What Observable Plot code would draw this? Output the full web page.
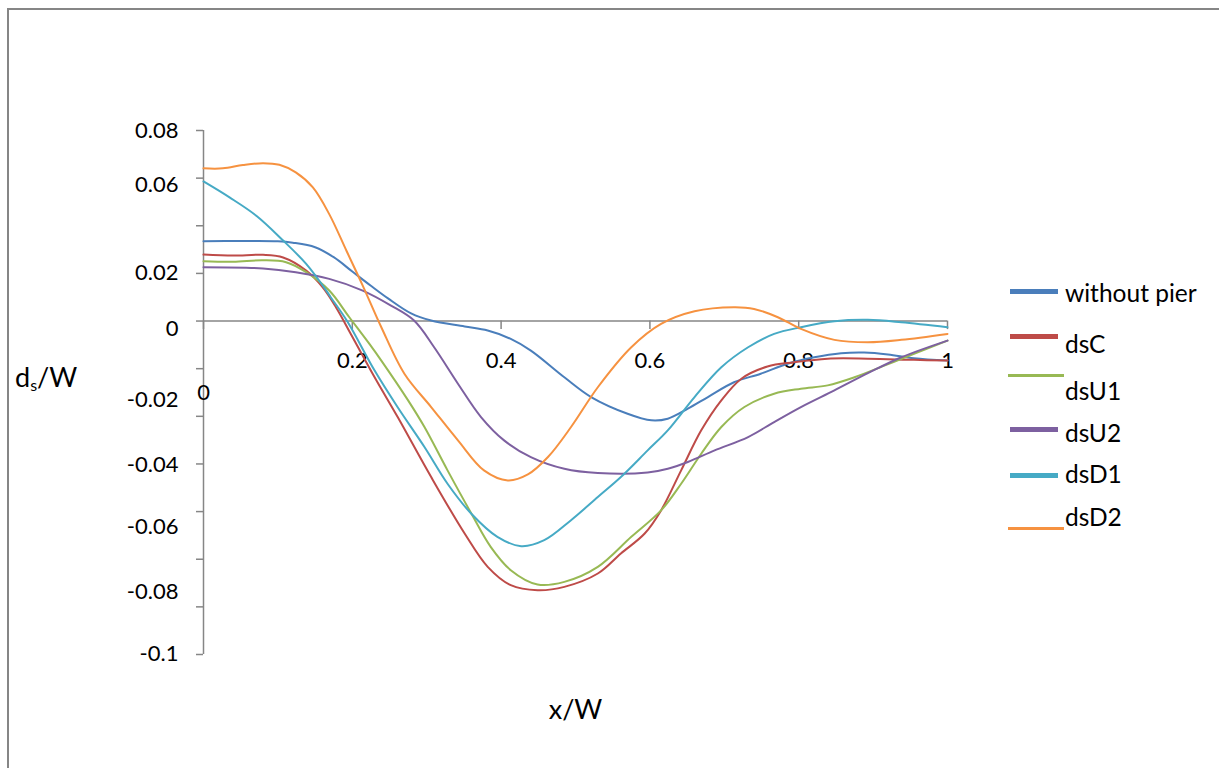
<!DOCTYPE html>
<html>
<head>
<meta charset="utf-8">
<script src="https://cdn.jsdelivr.net/npm/d3@7"></script>
<script src="https://cdn.jsdelivr.net/npm/@observablehq/plot@0.6"></script>
<style>
  html, body { margin: 0; padding: 0; background: #fff; overflow: hidden; }
  #wrap { position: relative; width: 1219px; height: 768px; font-family: "Lato", "Liberation Sans", sans-serif; }
  #wrap svg { display: block; }
  .frame { position: absolute; left: 7px; top: 8px; width: 1400px; height: 1000px; border: 2px solid #868686; box-sizing: border-box; pointer-events: none; }
  .leg-sw { position: absolute; box-shadow: 0 0 0 1px rgba(255,255,255,0.6); }
  .leg-tx { position: absolute; font-size: 24.5px; line-height: 30px; color: #000; white-space: nowrap; }
  .ytitle { position: absolute; left: 15px; top: 362px; font-size: 27px; line-height: 30px; color: #000; }
  .ytitle sub { font-size: 16px; vertical-align: -4px; line-height: 0; }
</style>
</head>
<body>
<div id="wrap"></div>
<script>
// ---- data ----
const seriesNames = ["without pier", "dsC", "dsU1", "dsU2", "dsD1", "dsD2"];
const seriesColors = ["#4A7EBB", "#BE4B48", "#98B954", "#7D60A0", "#46AAC5", "#F69240"];

const withoutPier = [[0,0.0335],[0.05,0.0336],[0.1,0.0335],[0.12,0.0329],[0.15,0.0310],[0.175,0.0268],[0.2,0.0208],[0.225,0.0148],[0.248,0.0095],[0.279,0.0032],[0.306,0.0002],[0.351,-0.0023],[0.382,-0.0040],[0.413,-0.0075],[0.440,-0.0124],[0.485,-0.0236],[0.521,-0.0319],[0.570,-0.0389],[0.602,-0.0417],[0.624,-0.0410],[0.651,-0.0368],[0.678,-0.0319],[0.713,-0.0257],[0.749,-0.0221],[0.785,-0.0179],[0.821,-0.0152],[0.857,-0.0135],[0.888,-0.0132],[0.920,-0.0140],[0.955,-0.0156],[1,-0.0166]];
const dsC = [[0,0.0279],[0.04,0.0275],[0.08,0.0278],[0.107,0.0267],[0.138,0.0212],[0.160,0.0142],[0.178,0.0058],[0.198,-0.0054],[0.230,-0.0236],[0.261,-0.0403],[0.306,-0.0655],[0.351,-0.0892],[0.382,-0.1032],[0.413,-0.1109],[0.449,-0.1130],[0.485,-0.1116],[0.530,-0.1060],[0.561,-0.0976],[0.593,-0.0892],[0.615,-0.0795],[0.642,-0.0627],[0.669,-0.0459],[0.696,-0.0333],[0.723,-0.0242],[0.758,-0.0191],[0.794,-0.0173],[0.839,-0.0158],[0.893,-0.0158],[0.955,-0.0163],[1,-0.0166]];
const dsU1 = [[0,0.0251],[0.04,0.0249],[0.08,0.0255],[0.111,0.0247],[0.138,0.0205],[0.169,0.0128],[0.196,0.0016],[0.223,-0.0096],[0.239,-0.0166],[0.275,-0.0333],[0.297,-0.0445],[0.328,-0.0627],[0.360,-0.0808],[0.386,-0.0948],[0.413,-0.1046],[0.449,-0.1106],[0.485,-0.1095],[0.530,-0.1032],[0.575,-0.0906],[0.615,-0.0795],[0.642,-0.0683],[0.669,-0.0557],[0.696,-0.0445],[0.727,-0.0361],[0.767,-0.0305],[0.803,-0.0284],[0.839,-0.0270],[0.875,-0.0236],[0.915,-0.0187],[0.955,-0.0138],[1,-0.0082]];
const dsU2 = [[0,0.0226],[0.08,0.0221],[0.124,0.0205],[0.169,0.0177],[0.214,0.0128],[0.252,0.0065],[0.283,0.0002],[0.310,-0.0110],[0.342,-0.0263],[0.373,-0.0403],[0.404,-0.0501],[0.440,-0.0571],[0.485,-0.0620],[0.530,-0.0638],[0.597,-0.0636],[0.624,-0.0620],[0.651,-0.0592],[0.687,-0.0543],[0.732,-0.0487],[0.767,-0.0424],[0.803,-0.0361],[0.848,-0.0291],[0.893,-0.0219],[0.938,-0.0152],[1,-0.0082]];
const dsD1 = [[0,0.0586],[0.035,0.0519],[0.071,0.0442],[0.107,0.0338],[0.138,0.0240],[0.165,0.0128],[0.171,0.0100],[0.193,0.0000],[0.230,-0.0208],[0.261,-0.0362],[0.297,-0.0529],[0.328,-0.0683],[0.360,-0.0809],[0.395,-0.0906],[0.427,-0.0945],[0.458,-0.0920],[0.494,-0.0836],[0.530,-0.0739],[0.561,-0.0655],[0.597,-0.0543],[0.624,-0.0459],[0.660,-0.0319],[0.696,-0.0194],[0.732,-0.0110],[0.767,-0.0054],[0.803,-0.0026],[0.848,-0.0001],[0.893,0.0005],[0.938,-0.0005],[1,-0.0026]];
const dsD2 = [[0,0.0641],[0.026,0.0641],[0.053,0.0655],[0.080,0.0663],[0.102,0.0656],[0.124,0.0624],[0.147,0.0561],[0.169,0.0449],[0.192,0.0296],[0.214,0.0149],[0.239,-0.0026],[0.270,-0.0221],[0.306,-0.0361],[0.342,-0.0501],[0.377,-0.0627],[0.409,-0.0669],[0.436,-0.0644],[0.463,-0.0571],[0.494,-0.0445],[0.530,-0.0278],[0.575,-0.0110],[0.615,-0.0012],[0.660,0.0041],[0.713,0.0058],[0.740,0.0051],[0.772,0.0016],[0.803,-0.0033],[0.848,-0.0079],[0.893,-0.0089],[0.938,-0.0079],[1,-0.0054]];

const seriesData = [withoutPier, dsC, dsU1, dsU2, dsD1, dsD2];

// axis ticks and labels
const xTickVals = [0, 0.2, 0.4, 0.6, 0.8, 1];
const xTickLabels = ["0", "0.2", "0.4", "0.6", "0.8", "1"];
const yTickVals = [0.08, 0.06, 0.04, 0.02, 0, -0.02, -0.04, -0.06, -0.08, -0.1, -0.12, -0.14];
const yTickLabels = ["0.08", "0.06", "0.02", "0", "-0.02", "-0.04", "-0.06", "-0.08", "-0.1"];
// where each y label sits on the value scale, as drawn in the reference
const yLabelAt = [0.08, 0.057, 0.0203, -0.0032, -0.0333, -0.0606, -0.0866, -0.1137, -0.1398];

// ---- layout (styles/positions, not data) ----
const axisColor = "#868686";
const legendLayout = [
  {sy: 291, ty: 293, thin: false},
  {sy: 336, ty: 344, thin: false},
  {sy: 375, ty: 391, thin: true},
  {sy: 429, ty: 433, thin: false},
  {sy: 475, ty: 474, thin: false},
  {sy: 528, ty: 517, thin: true}
];

const rows = seriesData.flatMap((s, k) => s.map(([x, y]) => ({series: seriesNames[k], x, y})));

const chart = Plot.plot({
  width: 1219,
  height: 768,
  marginTop: 130,
  marginBottom: 114,
  marginLeft: 203,
  marginRight: 272,
  x: {domain: [0, 1], axis: null},
  y: {domain: [-0.14, 0.08]},
  color: {domain: seriesNames, range: seriesColors},
  style: {fontFamily: "Lato, 'Liberation Sans', sans-serif", background: "transparent", color: "#000", overflow: "visible"},
  marks: [
    Plot.axisY(yTickVals, {anchor: "left", tickSize: 7, tickFormat: () => "", stroke: axisColor, strokeWidth: 1.5, label: null}),
    Plot.ruleX([0], {stroke: axisColor, strokeWidth: 1.5}),
    Plot.ruleY([0], {stroke: axisColor, strokeWidth: 1.5}),
    Plot.ruleX(xTickVals, {y1: 0, y2: -0.0036, stroke: axisColor, strokeWidth: 1.5}),
    Plot.text(yTickLabels, {x: 0, y: (d, i) => yLabelAt[i], text: d => d, textAnchor: "end", dx: -25, fontSize: 22, fill: "#000"}),
    Plot.text(xTickLabels.filter(d => d !== "0"), {x: d => +d, y: 0, text: d => d, dy: 40, fontSize: 22, fill: "#000"}),
    Plot.text(xTickLabels.filter(d => d === "0"), {x: d => +d, y: 0, text: d => d, dy: 72, fontSize: 22, fill: "#000"}),
    Plot.line(rows, {x: "x", y: "y", z: "series", stroke: "series", curve: "catmull-rom", strokeWidth: 2}),
    Plot.text(["x/W"], {frameAnchor: "bottom", dy: 64, fontSize: 27, fill: "#000"})
  ]
});

const wrap = document.getElementById("wrap");
wrap.appendChild(chart);

// y-axis title with subscript
const yt = document.createElement("div");
yt.className = "ytitle";
yt.innerHTML = "d<sub>s</sub>/W";
wrap.appendChild(yt);

// legend
seriesNames.forEach((name, i) => {
  const L = legendLayout[i];
  const sw = document.createElement("div");
  sw.className = "leg-sw";
  const h = L.thin ? 3 : 5;
  sw.style.left = (L.thin ? 1008 : 1010) + "px";
  sw.style.width = (L.thin ? 56 : 48) + "px";
  sw.style.height = h + "px";
  sw.style.top = (L.sy - h / 2) + "px";
  sw.style.background = seriesColors[i];
  wrap.appendChild(sw);
  const tx = document.createElement("div");
  tx.className = "leg-tx";
  tx.style.left = "1065px";
  tx.style.top = (L.ty - 15) + "px";
  tx.textContent = name;
  wrap.appendChild(tx);
});

const fr = document.createElement("div");
fr.className = "frame";
wrap.appendChild(fr);
</script>
</body>
</html>
